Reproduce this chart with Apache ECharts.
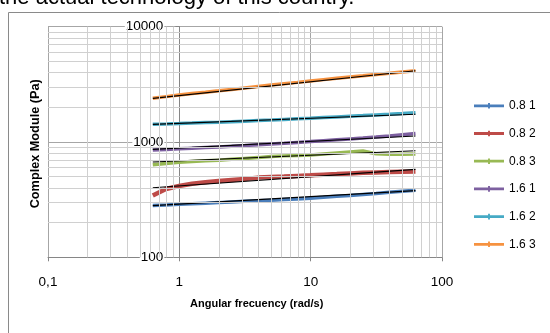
<!DOCTYPE html>
<html>
<head>
<meta charset="utf-8">
<script src="https://cdn.jsdelivr.net/npm/echarts@6/dist/echarts.min.js"></script>
<style>
  html, body { margin: 0; padding: 0; background: #fff; }
  #chart { width: 550px; height: 333px; }
</style>
</head>
<body>
<div id="chart"></div>
<script>
// Angular frequency sweep (rad/s)
const freq = [0.628, 0.791, 0.995, 1.25, 1.58, 1.99, 2.50, 3.15, 3.97, 4.99, 6.28,
              7.91, 9.95, 12.5, 15.8, 19.9, 25.0, 31.5, 39.7, 49.9, 62.8];

// Complex modulus (Pa) for each sample
const names = ['0.8 1', '0.8 2', '0.8 3', '1.6 1', '1.6 2', '1.6 3'];
const s081 = [281, 284, 288, 291, 295, 298, 302, 306, 310, 313, 317, 321, 325, 331, 338, 344, 351, 358, 366, 374, 382];
const s082 = [344, 391, 415, 434, 448, 460, 469, 478, 491, 497, 502, 508, 514, 521, 527, 534, 540, 545, 548, 551, 554];
const s083 = [634, 651, 667, 677, 687, 694, 709, 721, 732, 747, 758, 765, 772, 787, 803, 819, 835, 790, 782, 784, 787];
const s161 = [852, 862, 873, 884, 896, 907, 919, 932, 946, 960, 974, 991, 1008, 1026, 1045, 1064, 1083, 1105, 1129, 1157, 1185];
const s162 = [1424, 1435, 1447, 1460, 1474, 1485, 1497, 1515, 1533, 1551, 1570, 1589, 1608, 1629, 1651, 1672, 1694, 1718, 1742, 1768, 1795];
const s163 = [2393, 2475, 2556, 2630, 2704, 2780, 2859, 2945, 3029, 3115, 3203, 3290, 3382, 3475, 3568, 3660, 3751, 3850, 3951, 4050, 4145];

// Power-law fit lines: value at first and last frequency
const trendStart = [281, 401, 671, 864, 1420, 2393];
const trendEnd   = [378, 580, 840, 1127, 1740, 4150];

// Axis ticks and their labels
const xTicks = [0.1, 1, 10, 100];
const xTickLabels = ['0,1', '1', '10', '100'];
const yTicks = [100, 1000, 10000];
const yTickLabels = ['100', '1000', '10000'];

const colors = ['#4A7EBB', '#BE4B48', '#98B954', '#7D60A0', '#46AAC5', '#F69240'];
const seriesValues = [s081, s082, s083, s161, s162, s163];
const FONT = '"Liberation Sans", Arial, sans-serif';

function labelFor(ticks, labels) {
  return function (v) {
    const i = ticks.findIndex(t => Math.abs(t - v) / t < 1e-6);
    return i >= 0 ? labels[i] : '';
  };
}

// Minor grid positions (2..9 within each decade)
function minorLines(lo, hi) {
  const out = [];
  for (let d = lo; d < hi; d *= 10) {
    for (let m = 2; m <= 9; m++) out.push(Math.round(m * d * 1e6) / 1e6);
  }
  return out;
}
const xMinor = minorLines(0.1, 100).map(v => ({ xAxis: v }));
const yMinor = minorLines(100, 10000).map(v => ({ yAxis: v }));

const series = [];

// minor grid
series.push({
  type: 'line', data: [], silent: true, z: 1,
  markLine: {
    silent: true, symbol: 'none', animation: false,
    label: { show: false },
    lineStyle: { color: '#d0d0d0', width: 1, type: 'solid' },
    emphasis: { disabled: true },
    data: xMinor.concat(yMinor)
  }
});

seriesValues.forEach((vals, i) => {
  series.push({
    name: names[i],
    type: 'line',
    data: freq.map((f, k) => [f, vals[k]]),
    showSymbol: false,
    symbol: 'none',
    color: colors[i],
    lineStyle: { color: colors[i], width: i === 1 ? 4.5 : 3.5 },
    z: 3,
    silent: true
  });
});

seriesValues.forEach((vals, i) => {
  series.push({
    name: 'fit ' + names[i],
    type: 'line',
    data: [[freq[0], trendStart[i]], [freq[freq.length - 1], trendEnd[i]]],
    symbol: 'none',
    lineStyle: { color: '#000', width: 1.2 },
    z: 4,
    silent: true
  });
});

// legend key: thick line with a small centre marker
const legendIcon = 'path://M0,2H32V5H0Z M15,0.5H17V6.5H15Z';

const chart = echarts.init(document.getElementById('chart'), null, { renderer: 'canvas' });
chart.setOption({
  animation: false,
  backgroundColor: '#fff',
  textStyle: { fontFamily: FONT },
  grid: { left: 48, top: 26.7, width: 394, height: 230.6, containLabel: false },
  xAxis: {
    type: 'log', logBase: 10, min: 0.1, max: 100,
    axisLine: { show: true, lineStyle: { color: '#868686', width: 1 } },
    axisTick: { show: true, length: 4, lineStyle: { color: '#868686' } },
    axisLabel: { margin: 18, fontSize: 13.5, color: '#000', fontFamily: FONT,
                 formatter: labelFor(xTicks, xTickLabels) },
    splitLine: { show: true, lineStyle: { color: '#a6a6a6', width: 1 } }
  },
  yAxis: {
    type: 'log', logBase: 10, min: 100, max: 10000,
    offset: -131.33,
    axisLine: { show: true, lineStyle: { color: '#868686', width: 1 } },
    axisTick: { show: true, length: 4, lineStyle: { color: '#868686' } },
    axisLabel: { margin: 15, fontSize: 13.5, color: '#000', fontFamily: FONT,
                 backgroundColor: '#fff', padding: [0, 1, 0, 1],
                 formatter: labelFor(yTicks, yTickLabels) },
    splitLine: { show: true, lineStyle: { color: '#a6a6a6', width: 1 } }
  },
  legend: {
    data: names.map(n => ({ name: n, icon: legendIcon })),
    orient: 'vertical',
    left: 474, top: 99.8, padding: 0,
    itemWidth: 30, itemHeight: 6, itemGap: 15.7,
    textStyle: { fontSize: 12, color: '#000', fontFamily: FONT },
    selectedMode: false
  },
  graphic: [
    {
      type: 'rect', z: 0, silent: true,
      shape: { x: 8.5, y: 12.5, width: 700, height: 500 },
      style: { fill: 'none', stroke: '#8a8a8a', lineWidth: 1 }
    },
    {
      type: 'text', silent: true,
      x: -1, y: -1.6,
      style: { text: 'the actual technology of this country.', font: '22px ' + FONT,
               fill: '#000', align: 'left', verticalAlign: 'middle' }
    },
    {
      type: 'text', silent: true,
      x: 256.7, y: 304,
      style: { text: 'Angular frecuency (rad/s)', font: 'bold 11px ' + FONT,
               fill: '#000', align: 'center', verticalAlign: 'middle' }
    },
    {
      type: 'text', silent: true,
      x: 35.5, y: 143.8, rotation: Math.PI / 2,
      style: { text: 'Complex Module (Pa)', font: 'bold 12.7px ' + FONT,
               fill: '#000', align: 'center', verticalAlign: 'middle' }
    }
  ],
  series: series
});
</script>
</body>
</html>
